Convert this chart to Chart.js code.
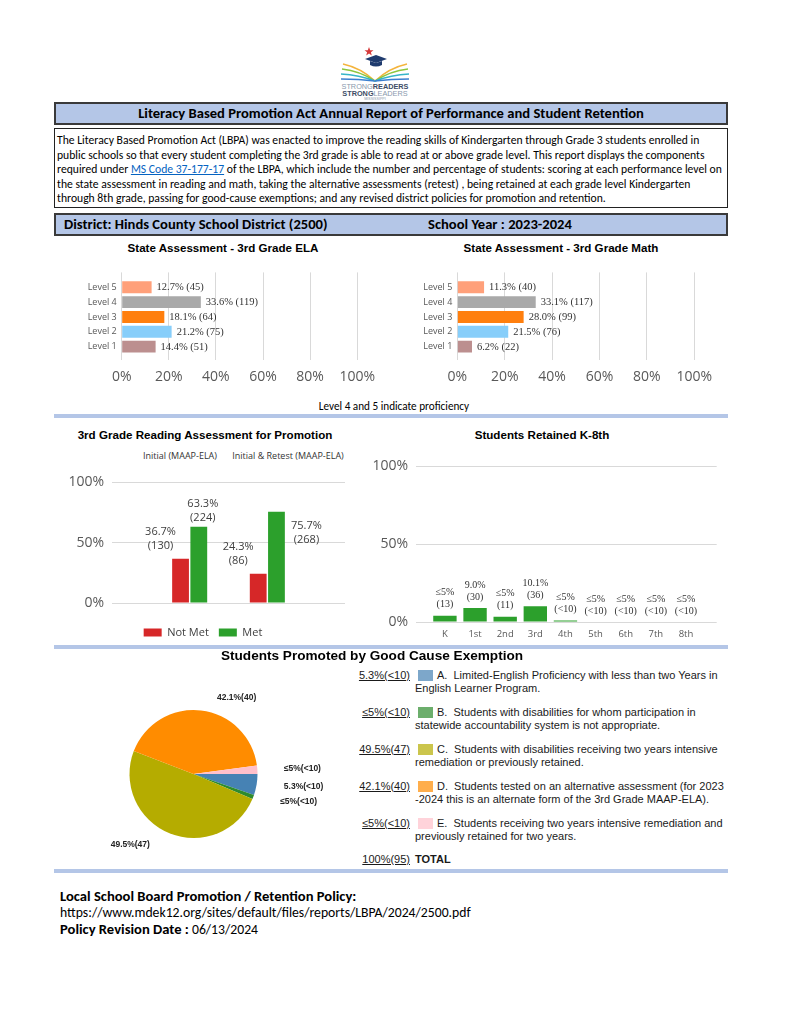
<!DOCTYPE html>
<html>
<head>
<meta charset="utf-8">
<script src="https://cdn.jsdelivr.net/npm/chart.js@4.4.1/dist/chart.umd.min.js"></script>
<style>
  body { margin:0; width:791px; height:1024px; position:relative; background:#fff; font-family:Carlito, Lato, sans-serif; color:#000; }
  .box { position:absolute; left:54px; width:674px; box-sizing:border-box; }
  .blue { background:#b4c6e7; border:2px solid #3a3a3a; font-weight:bold; line-height:19px; }
  .t { position:absolute; white-space:nowrap; }
  .ct { position:absolute; white-space:nowrap; transform:translateX(-50%); font-family:'Liberation Sans', Arial, sans-serif; font-weight:bold; font-size:11.6px; line-height:14px; }
  .sep { position:absolute; left:54px; width:674px; height:4px; background:#b4c6e7; }
  canvas { position:absolute; }
  .ex { position:absolute; left:340px; font-family:'Liberation Sans', Arial, sans-serif; font-size:11px; line-height:13px; color:#1a1a1a; }
  .ex .pct { position:absolute; left:0; width:70px; text-align:right; text-decoration:underline; }
  .ex .sq { position:absolute; left:78px; top:1px; width:15px; height:11px; }
  .ex .desc { position:absolute; left:75px; white-space:pre; text-indent:22px; }
</style>
</head>
<body>

<svg class="t" style="left:335px;top:44px" width="80" height="62" viewBox="0 0 80 62">
  <polygon points="34,3 35.2,6.2 38.5,6.3 35.9,8.3 36.8,11.5 34,9.6 31.2,11.5 32.1,8.3 29.5,6.3 32.8,6.2" fill="#d63b3b"/>
  <polygon points="30,15 41,11 52,15 41,19" fill="#1f3b6e"/>
  <path d="M35,17 L35,21 Q41,24 47,21 L47,17 L41,19 Z" fill="#1f3b6e"/>
  <g fill="none" stroke-width="1.4">
    <path d="M40,37 Q26,24 8,20" stroke="#f4b43c"/>
    <path d="M40,37 Q25,27 7,25" stroke="#8cc63f"/>
    <path d="M40,37 Q24,31 6,30" stroke="#36b5c9"/>
    <path d="M40,37 Q24,35 6,35" stroke="#3b7fd0"/>
    <path d="M40,37 Q54,24 72,20" stroke="#f4b43c"/>
    <path d="M40,37 Q55,27 73,25" stroke="#8cc63f"/>
    <path d="M40,37 Q56,31 74,30" stroke="#36b5c9"/>
    <path d="M40,37 Q56,35 74,35" stroke="#3b7fd0"/>
  </g>
  <text x="40" y="45" text-anchor="middle" font-family="Liberation Sans, Arial" font-size="7.3"><tspan fill="#8a99ad">STRONG</tspan><tspan fill="#3d4d66" font-weight="bold">READERS</tspan></text>
  <text x="40" y="51.5" text-anchor="middle" font-family="Liberation Sans, Arial" font-size="7.3"><tspan fill="#3d4d66" font-weight="bold">STRONG</tspan><tspan fill="#8a99ad">LEADERS</tspan></text>
  <text x="40" y="56" text-anchor="middle" font-family="Liberation Sans, Arial" font-size="3.6" fill="#8a99ad">MISSISSIPPI</text>
</svg>

<div class="box blue" style="top:102px;height:23px;text-align:center;font-size:14.6px;">Literacy Based Promotion Act Annual Report of Performance and Student Retention</div>

<div class="box" style="top:128px;height:80px;border:1.5px solid #222;padding:4px 0 0 2px;font-size:11.65px;line-height:14.5px;white-space:nowrap;">The Literacy Based Promotion Act (LBPA) was enacted to improve the reading skills of Kindergarten through Grade 3 students enrolled in<br>public schools so that every student completing the 3rd grade is able to read at or above grade level. This report displays the components<br>required under <span style="color:#0563c1;text-decoration:underline">MS Code 37-177-17</span> of the LBPA, which include the number and percentage of students: scoring at each performance level on<br>the state assessment in reading and math, taking the alternative assessments (retest) , being retained at each grade level Kindergarten<br>through 8th grade, passing for good-cause exemptions; and any revised district policies for promotion and retention.</div>

<div class="box blue" style="top:213px;height:23px;font-size:14.6px;">
  <span class="t" style="left:8px;top:0">District: Hinds County School District (2500)</span>
  <span class="t" style="left:372px;top:0">School Year : 2023-2024</span>
</div>

<div class="ct" style="left:223px;top:241px">State Assessment - 3rd Grade ELA</div>
<div class="ct" style="left:561px;top:241px">State Assessment - 3rd Grade Math</div>
<canvas id="ela" width="304" height="128" style="left:80px;top:262px"></canvas>
<canvas id="math" width="305" height="128" style="left:416px;top:262px"></canvas>
<div class="t" style="left:394px;top:399px;transform:translateX(-50%);font-size:11.2px;line-height:14px">Level 4 and 5 indicate proficiency</div>
<div class="sep" style="top:414px"></div>

<div class="ct" style="left:205px;top:428px">3rd Grade Reading Assessment for Promotion</div>
<div class="t" id="g0" style="left:180px;top:450px;transform:translateX(-50%);font-family:'Open Sans',sans-serif;font-size:9px;line-height:12px;color:#333"></div>
<div class="t" id="g1" style="left:288px;top:450px;transform:translateX(-50%);font-family:'Open Sans',sans-serif;font-size:9px;line-height:12px;color:#333"></div>
<canvas id="promo" width="284" height="182" style="left:61px;top:466px"></canvas>

<div class="ct" style="left:542px;top:428px">Students Retained K-8th</div>
<canvas id="retained" width="360" height="196" style="left:360px;top:450px"></canvas>
<div class="sep" style="top:645px"></div>

<div class="ct" style="left:372px;top:647px;font-size:13.6px;line-height:17px">Students Promoted by Good Cause Exemption</div>
<canvas id="pie" width="267" height="220" style="left:60px;top:664px"></canvas>
<div id="exList"></div>
<div class="sep" style="top:869px"></div>

<div class="t" style="left:60px;top:888px;font-weight:bold;font-size:14.6px;line-height:16px">Local School Board Promotion / Retention Policy:</div>
<div class="t" style="left:60px;top:905px;font-size:13.7px;line-height:16px">https://www.mdek12.org/sites/default/files/reports/LBPA/2024/2500.pdf</div>
<div class="t" style="left:60px;top:921px;font-size:13.7px;line-height:16px"><b style="font-size:14.6px">Policy Revision Date :</b> 06/13/2024</div>

<script>
// state assessment levels
const levels = ['Level 5', 'Level 4', 'Level 3', 'Level 2', 'Level 1'];
const elaPct = [12.7, 33.6, 18.1, 21.2, 14.4];
const elaCount = [45, 119, 64, 75, 51];
const mathPct = [11.3, 33.1, 28.0, 21.5, 6.2];
const mathCount = [40, 117, 99, 76, 22];
const levelColors = ['#FFA07A', '#A9A9A9', '#FF7F0E', '#87CEFA', '#BC8F8F'];

// reading assessment for promotion
const promoGroups = ['Initial (MAAP-ELA)', 'Initial & Retest (MAAP-ELA)'];
const notMetPct = [36.7, 24.3];
const notMetCount = [130, 86];
const metPct = [63.3, 75.7];
const metCount = [224, 268];

// retained K-8
const grades = ['K', '1st', '2nd', '3rd', '4th', '5th', '6th', '7th', '8th'];
const retainedPct = [4.0, 9.0, 3.4, 10.1, 0.9, 0, 0, 0, 0];
const retainedText = ['≤5%', '9.0%', '≤5%', '10.1%', '≤5%', '≤5%', '≤5%', '≤5%', '≤5%'];
const retainedCount = ['13', '30', '11', '36', '<10', '<10', '<10', '<10', '<10'];

// good cause exemptions
const exemptPct = [5.3, 1.1, 49.5, 42.1, 2.1];
const exemptPctText = ['5.3%', '≤5%', '49.5%', '42.1%', '≤5%'];
const exemptCount = ['<10', '<10', '47', '40', '<10'];
const exemptDesc = [
  'A.  Limited-English Proficiency with less than two Years in\nEnglish Learner Program.',
  'B.  Students with disabilities for whom participation in\nstatewide accountability system is not appropriate.',
  'C.  Students with disabilities receiving two years intensive\nremediation or previously retained.',
  'D.  Students tested on an alternative assessment (for 2023\n-2024 this is an alternate form of the 3rd Grade MAAP-ELA).',
  'E.  Students receiving two years intensive remediation and\npreviously retained for two years.'
];
const exemptTotal = '100%(95)';
const exemptColors = ['#4682B4', '#2E8B2E', '#B5AC00', '#FF8C00', '#FFC0CB'];

Chart.defaults.font.family = "'Open Sans', 'Noto Sans', sans-serif";
Chart.defaults.color = '#595959';
Chart.defaults.animation = false;
Chart.defaults.responsive = false;
Chart.defaults.plugins.tooltip.enabled = false;

function levelChart(id, pct, count, axisWidth) {
  const labelsPlugin = {
    id: 'levelLabels',
    afterDatasetsDraw(chart) {
      const ctx = chart.ctx;
      ctx.save();
      ctx.font = "10.5px 'Liberation Serif', serif";
      ctx.fillStyle = '#333';
      ctx.textBaseline = 'middle';
      chart.getDatasetMeta(0).data.forEach((bar, i) => {
        ctx.fillText(pct[i].toFixed(1) + '% (' + count[i] + ')', bar.x + 5, bar.y + 0.5);
      });
      ctx.restore();
    }
  };
  new Chart(document.getElementById(id), {
    type: 'bar',
    data: {
      datasets: [{
        data: pct.map((v, i) => ({ x: v, y: i })),
        backgroundColor: levelColors,
        categoryPercentage: 0.8,
        barPercentage: 1.0
      }]
    },
    options: {
      indexAxis: 'y',
      layout: { padding: { top: 9.7, right: 22, left: 0, bottom: 0 } },
      plugins: { legend: { display: false } },
      scales: {
        x: {
          min: 0, max: 100,
          ticks: { stepSize: 20, callback: v => v + '%', font: { size: 14 }, padding: 9 },
          grid: { color: '#d9d9d9', drawTicks: false },
          border: { display: false },
          afterFit: s => { s.height = 30; }
        },
        y: {
          type: 'linear', reverse: true, min: -1, max: 4.9, offset: false,
          afterBuildTicks: s => { s.ticks = levels.map((l, i) => ({ value: i })); },
          ticks: { callback: v => levels[v], font: { size: 9 }, padding: 5, autoSkip: false },
          grid: { display: false, drawTicks: false, offset: false },
          border: { display: false },
          afterFit: s => { s.width = axisWidth; }
        }
      }
    },
    plugins: [labelsPlugin]
  });
}

levelChart('ela', elaPct, elaCount, 41.7);
levelChart('math', mathPct, mathCount, 41.3);

document.getElementById('g0').textContent = promoGroups[0];
document.getElementById('g1').textContent = promoGroups[1];

// label offsets (dx, dy of the lower line from the bar top centre)
const promoLabelShift = [[[-20, -13], [-20, -13]], [[4, -9], [30, 28]]];
const promoLabels = {
  id: 'promoLabels',
  afterDatasetsDraw(chart) {
    const ctx = chart.ctx;
    const pcts = [notMetPct, metPct];
    const counts = [notMetCount, metCount];
    ctx.save();
    ctx.font = "11px 'Open Sans', sans-serif";
    ctx.fillStyle = '#404040';
    ctx.textAlign = 'center';
    ctx.textBaseline = 'middle';
    [0, 1].forEach(d => {
      chart.getDatasetMeta(d).data.forEach((bar, i) => {
        const [dx, dy] = promoLabelShift[d][i];
        ctx.fillText(pcts[d][i].toFixed(1) + '%', bar.x + dx, bar.y + dy - 14);
        ctx.fillText('(' + counts[d][i] + ')', bar.x + dx, bar.y + dy);
      });
    });
    ctx.restore();
  }
};

new Chart(document.getElementById('promo'), {
  type: 'bar',
  data: {
    datasets: [
      { label: 'Not Met', data: notMetPct.map((v, i) => ({ x: i + 1, y: v })), backgroundColor: '#D62728', categoryPercentage: 0.47, barPercentage: 0.92 },
      { label: 'Met', data: metPct.map((v, i) => ({ x: i + 1, y: v })), backgroundColor: '#2CA02C', categoryPercentage: 0.47, barPercentage: 0.92 }
    ]
  },
  options: {
    layout: { padding: { top: 15, right: 0, left: 0, bottom: 0 } },
    plugins: {
      legend: {
        position: 'bottom',
        labels: { boxWidth: 18, boxHeight: 8, padding: 10, color: '#404040', font: { size: 11 } }
      }
    },
    scales: {
      x: {
        type: 'linear', min: 0, max: 3, offset: false,
        afterBuildTicks: s => { s.ticks = promoGroups.map((g, i) => ({ value: i + 1 })); },
        ticks: { display: false },
        grid: { display: false, drawTicks: false, offset: false },
        border: { display: false },
        afterFit: s => { s.height = 14; }
      },
      y: {
        min: 0, max: 100,
        ticks: { stepSize: 50, callback: v => v + '%', font: { size: 14 }, padding: 8 },
        grid: { color: '#d9d9d9', drawTicks: false },
        border: { display: false },
        afterFit: s => { s.width = 51; }
      }
    }
  },
  plugins: [promoLabels]
});

const retainedLabels = {
  id: 'retainedLabels',
  afterDatasetsDraw(chart) {
    const ctx = chart.ctx;
    ctx.save();
    ctx.font = "10px 'Liberation Serif', serif";
    ctx.fillStyle = '#333';
    ctx.textAlign = 'center';
    ctx.textBaseline = 'middle';
    chart.getDatasetMeta(0).data.forEach((bar, i) => {
      ctx.fillText(retainedText[i], bar.x, bar.y - 23);
      ctx.fillText('(' + retainedCount[i] + ')', bar.x, bar.y - 11);
    });
    ctx.restore();
  }
};

new Chart(document.getElementById('retained'), {
  type: 'bar',
  data: {
    datasets: [{
      data: retainedPct.map((v, i) => ({ x: i, y: v })),
      backgroundColor: '#2CA02C',
      categoryPercentage: 0.8,
      barPercentage: 0.97
    }]
  },
  options: {
    layout: { padding: { top: 11.7, right: 3.3, left: 0, bottom: 0 } },
    plugins: { legend: { display: false } },
    scales: {
      x: {
        type: 'linear', min: -0.96, max: 9.02, offset: false,
        afterBuildTicks: s => { s.ticks = grades.map((g, i) => ({ value: i })); },
        ticks: { callback: v => grades[v], font: { size: 9.5 }, padding: 7, autoSkip: false, maxRotation: 0 },
        grid: { display: false, drawTicks: false, offset: false },
        border: { display: false },
        afterFit: s => { s.height = 24; }
      },
      y: {
        min: 0, max: 100,
        ticks: { stepSize: 50, callback: v => v + '%', font: { size: 14 }, padding: 8 },
        grid: { color: '#d9d9d9', drawTicks: false },
        border: { display: false },
        afterFit: s => { s.width = 56; }
      }
    }
  },
  plugins: [retainedLabels]
});

// pie label nudges from the point at 1.4 x radius on each slice's mid angle
const pieLabelNudge = [[2, -2], [3, -5], [-10, -12], [13, 13], [1, 1]];
const pieLabels = {
  id: 'pieLabels',
  afterDatasetsDraw(chart) {
    const ctx = chart.ctx;
    ctx.save();
    ctx.font = "bold 8.5px 'Liberation Sans', Arial, sans-serif";
    ctx.fillStyle = '#222';
    ctx.textBaseline = 'middle';
    chart.getDatasetMeta(0).data.forEach((arc, i) => {
      const mid = (arc.startAngle + arc.endAngle) / 2;
      const r = arc.outerRadius * 1.4;
      ctx.textAlign = Math.cos(mid) >= 0 ? 'left' : 'right';
      ctx.fillText(exemptPctText[i] + '(' + exemptCount[i] + ')',
        arc.x + Math.cos(mid) * r + pieLabelNudge[i][0],
        arc.y + Math.sin(mid) * r + pieLabelNudge[i][1]);
    });
    ctx.restore();
  }
};

new Chart(document.getElementById('pie'), {
  type: 'pie',
  data: {
    labels: exemptDesc.map(d => d.slice(0, 1)),
    datasets: [{ data: exemptPct, backgroundColor: exemptColors, borderWidth: 0 }]
  },
  options: {
    rotation: 90,
    layout: { padding: 46 },
    plugins: { legend: { display: false } }
  },
  plugins: [pieLabels]
});

// exemption list beside the pie
const list = document.getElementById('exList');
function hexAlpha(hex, a) {
  const n = parseInt(hex.slice(1), 16);
  return 'rgba(' + (n >> 16) + ',' + ((n >> 8) & 255) + ',' + (n & 255) + ',' + a + ')';
}
exemptDesc.forEach((d, i) => {
  const row = document.createElement('div');
  row.className = 'ex';
  row.style.top = (669 + i * 36.9) + 'px';
  row.innerHTML = '<span class="pct"></span><span class="sq"></span><div class="desc"></div>';
  row.querySelector('.pct').textContent = exemptPctText[i] + '(' + exemptCount[i] + ')';
  row.querySelector('.sq').style.background = hexAlpha(exemptColors[i], 0.7);
  row.querySelector('.desc').textContent = d;
  list.appendChild(row);
});
const tot = document.createElement('div');
tot.className = 'ex';
tot.style.top = '853px';
tot.innerHTML = '<span class="pct"></span><div class="desc" style="font-weight:bold;text-indent:0">TOTAL</div>';
tot.querySelector('.pct').textContent = exemptTotal;
list.appendChild(tot);
</script>
</body>
</html>
